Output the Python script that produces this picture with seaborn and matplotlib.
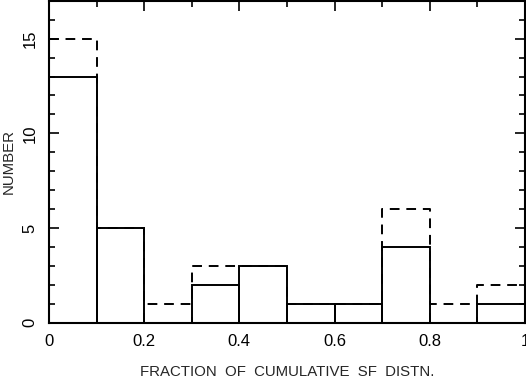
import numpy as np
import seaborn as sns
import matplotlib.pyplot as plt
from matplotlib.ticker import MultipleLocator

# bin edges and counts
bin_edges = [0.0, 0.1, 0.2, 0.3, 0.4, 0.5, 0.6, 0.7, 0.8, 0.9, 1.0]
solid_counts = [13, 5, 0, 2, 3, 1, 1, 4, 0, 1]
dashed_counts = [15, 5, 1, 3, 3, 1, 1, 6, 1, 2]

centers = (np.array(bin_edges[:-1]) + np.array(bin_edges[1:])) / 2

sns.set_style("ticks")
plt.rcParams["font.family"] = ["Liberation Sans", "DejaVu Sans"]

fig = plt.figure(figsize=(5.26, 3.78), dpi=100)
ax = fig.add_axes([0.093, 0.146, 0.905, 0.852])

sns.histplot(x=centers, weights=dashed_counts, bins=bin_edges, element="step",
             fill=False, color="black", linestyle=(0, (5, 3.5)), linewidth=1.4, ax=ax)
sns.histplot(x=centers, weights=solid_counts, bins=bin_edges, element="bars",
             fill=False, color="black", linewidth=1.4, ax=ax)

ax.set_xlim(0, 1)
ax.set_ylim(0, 17)
ax.xaxis.set_minor_locator(MultipleLocator(0.1))
ax.yaxis.set_major_locator(MultipleLocator(5))
ax.yaxis.set_minor_locator(MultipleLocator(1))
ax.set_xticks([0, 0.2, 0.4, 0.6, 0.8, 1.0])
ax.set_xticklabels(["0", "0.2", "0.4", "0.6", "0.8", "1"])
ax.tick_params(which="both", direction="in", top=True, right=True, color="black",
               width=1.2, labelsize=12, labelcolor="black")
ax.tick_params(which="major", length=7, pad=8)
ax.tick_params(which="minor", length=4)
for lab in ax.get_yticklabels():
    lab.set_rotation(90)
    lab.set_va("center")
for sp in ax.spines.values():
    sp.set_visible(True)
    sp.set_linewidth(1.5)
    sp.set_color("black")

ax.set_xlabel("FRACTION  OF  CUMULATIVE  SF  DISTN.", fontsize=10.8)
ax.set_ylabel("NUMBER", fontsize=10.8)
ax.xaxis.set_label_coords(0.5, -0.13)
ax.yaxis.set_label_coords(-0.07, 0.5)

fig.savefig("out.png", dpi=100)
